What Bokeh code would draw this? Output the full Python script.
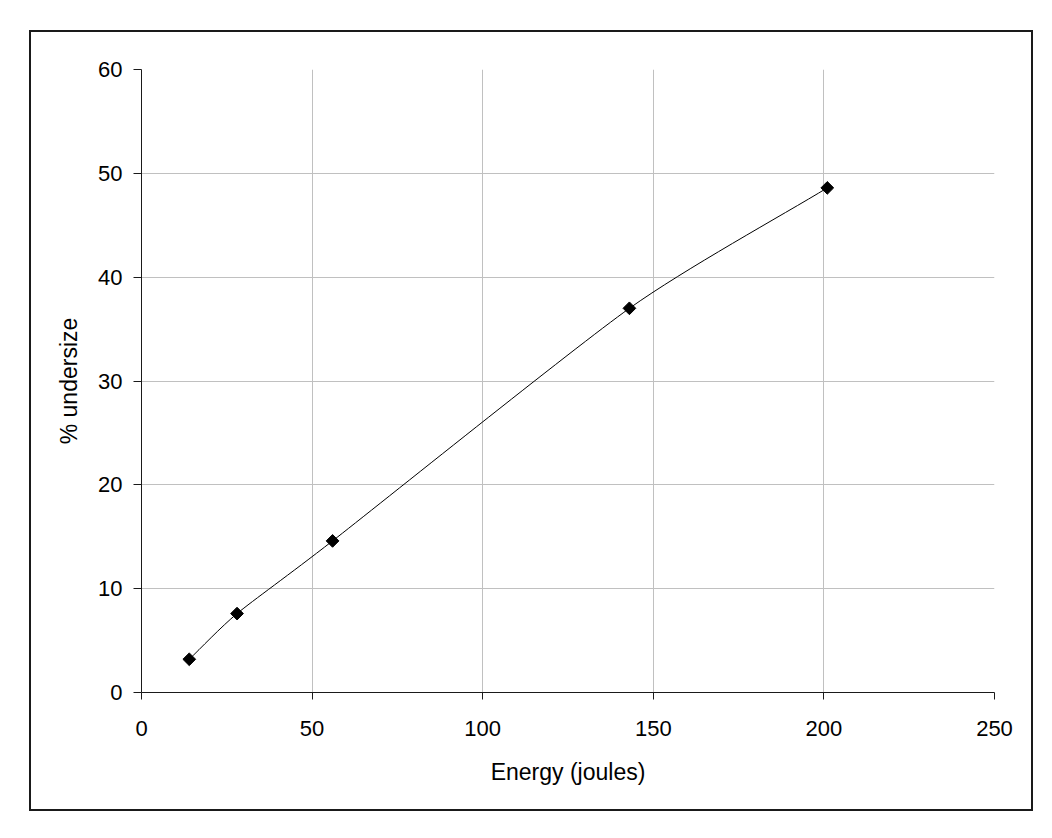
from bokeh.plotting import figure
from bokeh.models import Range1d, FixedTicker
from bokeh.embed import file_html
from bokeh.resources import INLINE

# data
energy = [14, 28, 56, 143, 201]
undersize = [3.2, 7.6, 14.6, 37.0, 48.6]
x_ticks = [0, 50, 100, 150, 200, 250]
y_ticks = [0, 10, 20, 30, 40, 50, 60]
x_label = "Energy (joules)"
y_label = "% undersize"

FONT = "Liberation Sans"

p = figure(width=1004, height=781, output_backend="svg", toolbar_location=None,
           x_range=Range1d(0, 250), y_range=Range1d(0, 60),
           min_border_left=110, min_border_right=41, min_border_top=37, min_border_bottom=121,
           margin=(30, 0, 0, 29))
p.styles = {"border": "2px solid #1a1a1a"}
p.outline_line_color = None
p.background_fill_color = "white"
p.border_fill_color = "white"

# smoothed line through the points (cubic Bezier segments, ends extended linearly)
n = len(energy)
K = 1.0 / 9.0
def pt(i):
    if i < 0:
        return 2 * energy[0] - energy[1], 2 * undersize[0] - undersize[1]
    if i > n - 1:
        return 2 * energy[-1] - energy[-2], 2 * undersize[-1] - undersize[-2]
    return energy[i], undersize[i]

x0, y0, x1, y1, cx0, cy0, cx1, cy1 = [], [], [], [], [], [], [], []
for i in range(n - 1):
    xm, ym = pt(i - 1)
    xa, ya = pt(i)
    xb, yb = pt(i + 1)
    xp, yp = pt(i + 2)
    x0.append(xa); y0.append(ya); x1.append(xb); y1.append(yb)
    cx0.append(xa + (xb - xm) * K); cy0.append(ya + (yb - ym) * K)
    cx1.append(xb - (xp - xa) * K); cy1.append(yb - (yp - ya) * K)

p.bezier(x0=x0, y0=y0, x1=x1, y1=y1, cx0=cx0, cy0=cy0, cx1=cx1, cy1=cy1,
         line_color="black", line_width=1)
p.scatter(energy, undersize, marker="square", angle=0.7853981634, size=9,
          fill_color="black", line_color="black")

for ax in (p.xaxis, p.yaxis):
    ax.axis_line_color = "#1a1a1a"
    ax.axis_line_width = 1
    ax.major_tick_line_color = "#1a1a1a"
    ax.minor_tick_line_color = None
    ax.major_tick_in = 0
    ax.major_label_text_font = FONT
    ax.major_label_text_font_size = "22px"
    ax.major_label_text_color = "black"
    ax.axis_label_text_font = FONT
    ax.axis_label_text_font_size = "23px"
    ax.axis_label_text_font_style = "normal"
    ax.axis_label_text_color = "black"

p.xaxis.ticker = FixedTicker(ticks=x_ticks)
p.yaxis.ticker = FixedTicker(ticks=y_ticks)
p.xaxis.major_tick_out = 7
p.yaxis.major_tick_out = 8
p.xaxis.major_label_standoff = 21
p.yaxis.major_label_standoff = 11
p.xaxis.axis_label = x_label
p.yaxis.axis_label = y_label
p.xaxis.axis_label_standoff = 20
p.yaxis.axis_label_standoff = 13

for g in (p.xgrid, p.ygrid):
    g.grid_line_color = "#c0c0c0"
    g.grid_line_width = 1

open("out.html", "w").write(file_html(p, INLINE))
